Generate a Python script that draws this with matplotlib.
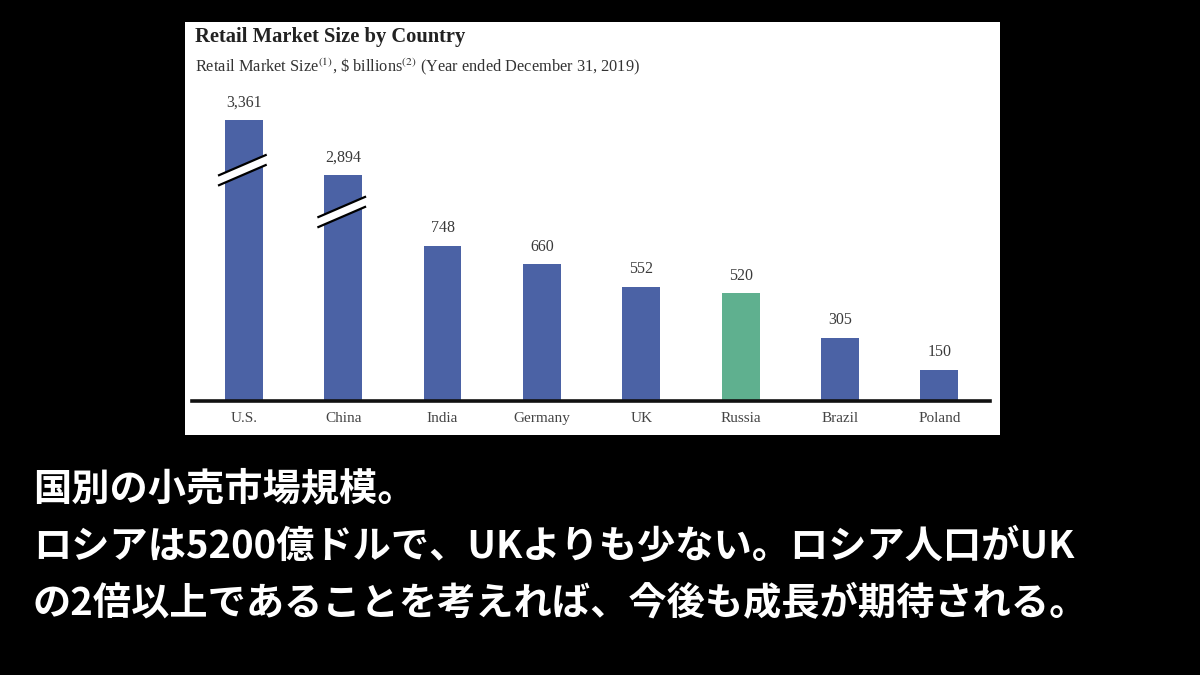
import numpy as np
import matplotlib.pyplot as plt
from matplotlib.patches import Rectangle, Polygon
from matplotlib.transforms import blended_transform_factory

plt.rcParams['mathtext.fontset'] = 'stix'

countries = ['U.S.', 'China', 'India', 'Germany', 'UK', 'Russia', 'Brazil', 'Poland']
sizes = [3361, 2894, 748, 660, 552, 520, 305, 150]
highlight = 'Russia'
broken = ['U.S.', 'China']

title = 'Retail Market Size by Country'
subtitle = (r'Retail Market Size$^{(1)}$, \$ billions$^{(2)}$ '
            '(Year ended December 31, 2019)')
caption = ['国別の小売市場規模。',
           'ロシアは5200億ドルで、UKよりも少ない。ロシア人口がUK',
           'の2倍以上であることを考えれば、今後も成長が期待される。']

blue = '#4b62a5'
green = '#5fb08f'

# broken axis: squeeze the range above ~800 so the two big bars fit
knots_in = np.array([0, 800, 2800, 3400, 4000])
knots_out = np.array([0, 800, 1039, 1379, 1719])


def fwd(y):
    return np.interp(y, knots_in, knots_out)


def inv(y):
    return np.interp(y, knots_out, knots_in)


W, H = 1200, 675
fig = plt.figure(figsize=(12, 6.75), dpi=100)
fig.patch.set_facecolor('black')

# white panel holding the chart
fig.patches.append(Rectangle((185 / W, 1 - 435 / H), 815 / W, 413 / H,
                             transform=fig.transFigure, facecolor='white',
                             edgecolor='none', zorder=-1))

ax = fig.add_axes([192 / W, 1 - 401 / H, 798 / W, 301 / H])
ax.set_facecolor('none')
ax.set_yscale('function', functions=(fwd, inv))
ax.set_ylim(0, inv(1454))
ax.set_xlim(-0.522, 7.51)

x = np.arange(len(countries))
colors = [green if c == highlight else blue for c in countries]
ax.bar(x, sizes, width=0.38, color=colors, zorder=2)

for xi, v in zip(x, sizes):
    ax.annotate(f'{v:,}', (xi, v), xytext=(0, 7), textcoords='offset points',
                ha='center', va='bottom', fontsize=11.5, color='#3a3a3a',
                family='Liberation Serif')

# break marks on the squeezed bars
trans = blended_transform_factory(ax.transData, ax.transAxes)
break_pos = {'U.S.': 0.767, 'China': 0.628}
for name in broken:
    i = countries.index(name)
    yb = break_pos[name]
    x0, x1 = i - 0.26, i + 0.23
    dy = 21 / 301
    gap = 10 / 301
    y0 = yb - dy / 2 - gap / 2
    poly = Polygon([(x0, y0), (x1, y0 + dy), (x1, y0 + dy + gap), (x0, y0 + gap)],
                   closed=True, transform=trans, facecolor='white',
                   edgecolor='none', zorder=3)
    ax.add_patch(poly)
    for off in (0, gap):
        ax.plot([x0, x1], [y0 + off, y0 + dy + off], transform=trans,
                color='black', lw=1.6, zorder=4, solid_capstyle='butt')

for s in ['top', 'right', 'left']:
    ax.spines[s].set_visible(False)
ax.spines['bottom'].set_linewidth(2.6)
ax.spines['bottom'].set_color('#111111')
ax.set_yticks([])
ax.set_xticks(x)
ax.set_xticklabels(countries, family='Liberation Serif', fontsize=11,
                   color='#444444')
ax.tick_params(axis='x', length=0, pad=8)
ax.minorticks_off()

fig.text(195 / W, 1 - 37 / H, title, family='Liberation Serif',
         fontweight='bold', fontsize=14.8, color='#222222', va='center')
fig.text(195 / W, 1 - 67 / H, subtitle, family='Liberation Serif',
         fontsize=11.75, color='#333333', va='center')

for k, line in enumerate(caption):
    fig.text(33 / W, 1 - (489 + 57.5 * k) / H, line,
             family=['Noto Sans CJK JP', 'DejaVu Sans'], fontweight='bold',
             fontsize=27.5, color='white', va='center')

fig.savefig('out.png', dpi=100, facecolor='black')
